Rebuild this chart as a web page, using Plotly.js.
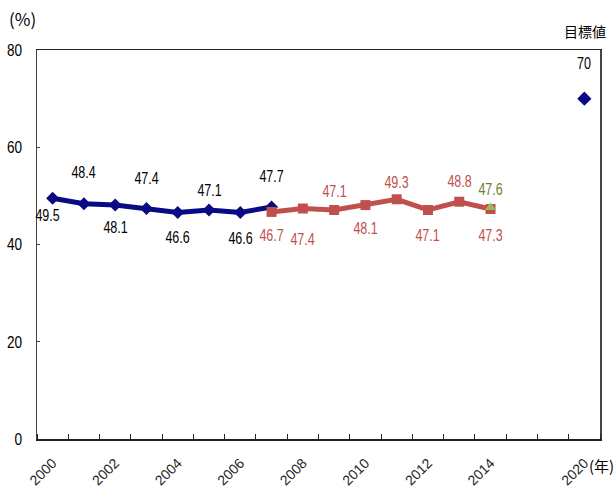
<!DOCTYPE html>
<html><head><meta charset="utf-8">
<script src="https://cdn.plot.ly/plotly-3.0.1.min.js"></script>
<style>html,body{margin:0;padding:0;background:#fff}#chart{width:616px;height:492px}</style>
</head><body><div id="chart"></div>
<script>
// Category slots of the x axis (two empty slots before the 2020 target)
const xSlots = [2000,2001,2002,2003,2004,2005,2006,2007,2008,2009,2010,2011,2012,2013,2014,null,null,2020];
const tickYears = [2000,2002,2004,2006,2008,2010,2012,2014,2020];
const tickLabels = ['2000','2002','2004','2006','2008','2010','2012','2014','2020'];

const blueYears = [2000,2001,2002,2003,2004,2005,2006,2007];
const blueValues = [49.5,48.4,48.1,47.4,46.6,47.1,46.6,47.7];
const redYears = [2007,2008,2009,2010,2011,2012,2013,2014];
const redValues = [46.7,47.4,47.1,48.1,49.3,47.1,48.8,47.3];
const greenYears = [2014];
const greenValues = [47.6];
const targetYears = [2020];
const targetValues = [70];

// label offsets (px) — layout only
const blueShift = [-17,31,-22,30,-25,19,-26,31];
const redShift = [-24,-31,18,-23,17,-26,20,-26];
const greenShift = [18];
const targetShift = [35];

const slot = y => xSlots.indexOf(y);
const numFont = 'Liberation Sans, Arial, sans-serif';

const traces = [
  {x: blueYears.map(slot), y: blueValues, type:'scatter', mode:'lines+markers',
   line:{color:'#0a0a84', width:5}, marker:{symbol:'diamond', size:10, color:'#0a0a84'}, hoverinfo:'skip'},
  {x: redYears.map(slot), y: redValues, type:'scatter', mode:'lines+markers',
   line:{color:'#c0504d', width:5}, marker:{symbol:'square', size:10, color:'#c0504d'}, hoverinfo:'skip'},
  {x: greenYears.map(slot), y: greenValues, type:'scatter', mode:'markers',
   marker:{symbol:'triangle-up', size:10, color:'#9bbb59'}, hoverinfo:'skip'},
  {x: targetYears.map(slot), y: targetValues, type:'scatter', mode:'markers',
   marker:{symbol:'diamond', size:11, color:'#0a0a84'}, hoverinfo:'skip'}
];

const annotations = [];
function addLabels(years, values, shifts, color, xs) {
  years.forEach((yr, i) => {
    annotations.push({x: slot(yr), y: values[i], xref:'x', yref:'y', text: values[i].toFixed(1),
      showarrow:false, yshift: shifts[i], xshift: (xs && xs[i]) || 0,
      font:{family:numFont, size:16, color:color}});
  });
}
addLabels(blueYears, blueValues, blueShift, '#000000', [-5,0,0,0,0,0,0,0]);
addLabels(redYears, redValues, redShift, '#c0504d');
addLabels(greenYears, greenValues, greenShift, '#6b7f2c');
targetYears.forEach((yr, i) => {
  annotations.push({x: slot(yr), y: targetValues[i], xref:'x', yref:'y', text: String(targetValues[i]),
    showarrow:false, yshift: targetShift[i], font:{family:numFont, size:16, color:'#000'}});
});
annotations.push({x:-0.025, y:1.082, xref:'paper', yref:'paper', xanchor:'center', yanchor:'middle', text:'(%)', showarrow:false,
  font:{family:'Noto Sans CJK JP, sans-serif', size:17, color:'#000'}});
annotations.push({x:0.973, y:1.049, xref:'paper', yref:'paper', xanchor:'center', yanchor:'middle', text:'目標値', showarrow:false,
  font:{family:'Noto Sans CJK JP, sans-serif', size:14, color:'#000'}});
annotations.push({x:1.003, y:-0.067, xref:'paper', yref:'paper', xanchor:'center', yanchor:'middle', text:'(年)', showarrow:false,
  font:{family:'Noto Sans CJK JP, sans-serif', size:15, color:'#000'}});

const layout = {
  width:616, height:492,
  margin:{l:37, r:16, t:50, b:53},
  paper_bgcolor:'#fff', plot_bgcolor:'#fff',
  showlegend:false,
  xaxis:{
    type:'linear', range:[-0.5, xSlots.length - 0.5],
    tickmode:'array', tickvals: tickYears.map(slot), ticktext: tickLabels,
    tickangle:-45, ticks:'', showgrid:false, zeroline:false,
    showline:true, linecolor:'#222', linewidth:1.5, mirror:true,
    ticklabelstandoff:9,
    tickfont:{family:numFont, size:14, color:'#222'},
    minor:{tick0:0.5, dtick:1, ticks:'inside', ticklen:5, tickcolor:'#222', tickwidth:1, showgrid:false}
  },
  yaxis:{
    range:[0,80], dtick:20, ticks:'inside', ticklen:3, tickcolor:'#444',
    showgrid:false, zeroline:false, showline:true, linecolor:'#444', linewidth:1.5, mirror:true,
    ticklabelstandoff:10,
    tickfont:{family:numFont, size:17, color:'#000'}
  },
  annotations: annotations
};

// narrow the numeric text to mimic the condensed face of the original
function squeeze(sel, f) {
  document.querySelectorAll(sel).forEach(t => {
    if (!/^[\d.]+$/.test(t.textContent)) return;
    const w = t.getComputedTextLength();
    t.setAttribute('textLength', (w * f).toFixed(1));
    t.setAttribute('lengthAdjust', 'spacingAndGlyphs');
  });
}
Plotly.newPlot('chart', traces, layout, {staticPlot:true, displayModeBar:false}).then(() => {
  squeeze('#chart .annotation-text', 0.78);
  squeeze('#chart .ytick text', 0.8);
});
</script></body></html>
